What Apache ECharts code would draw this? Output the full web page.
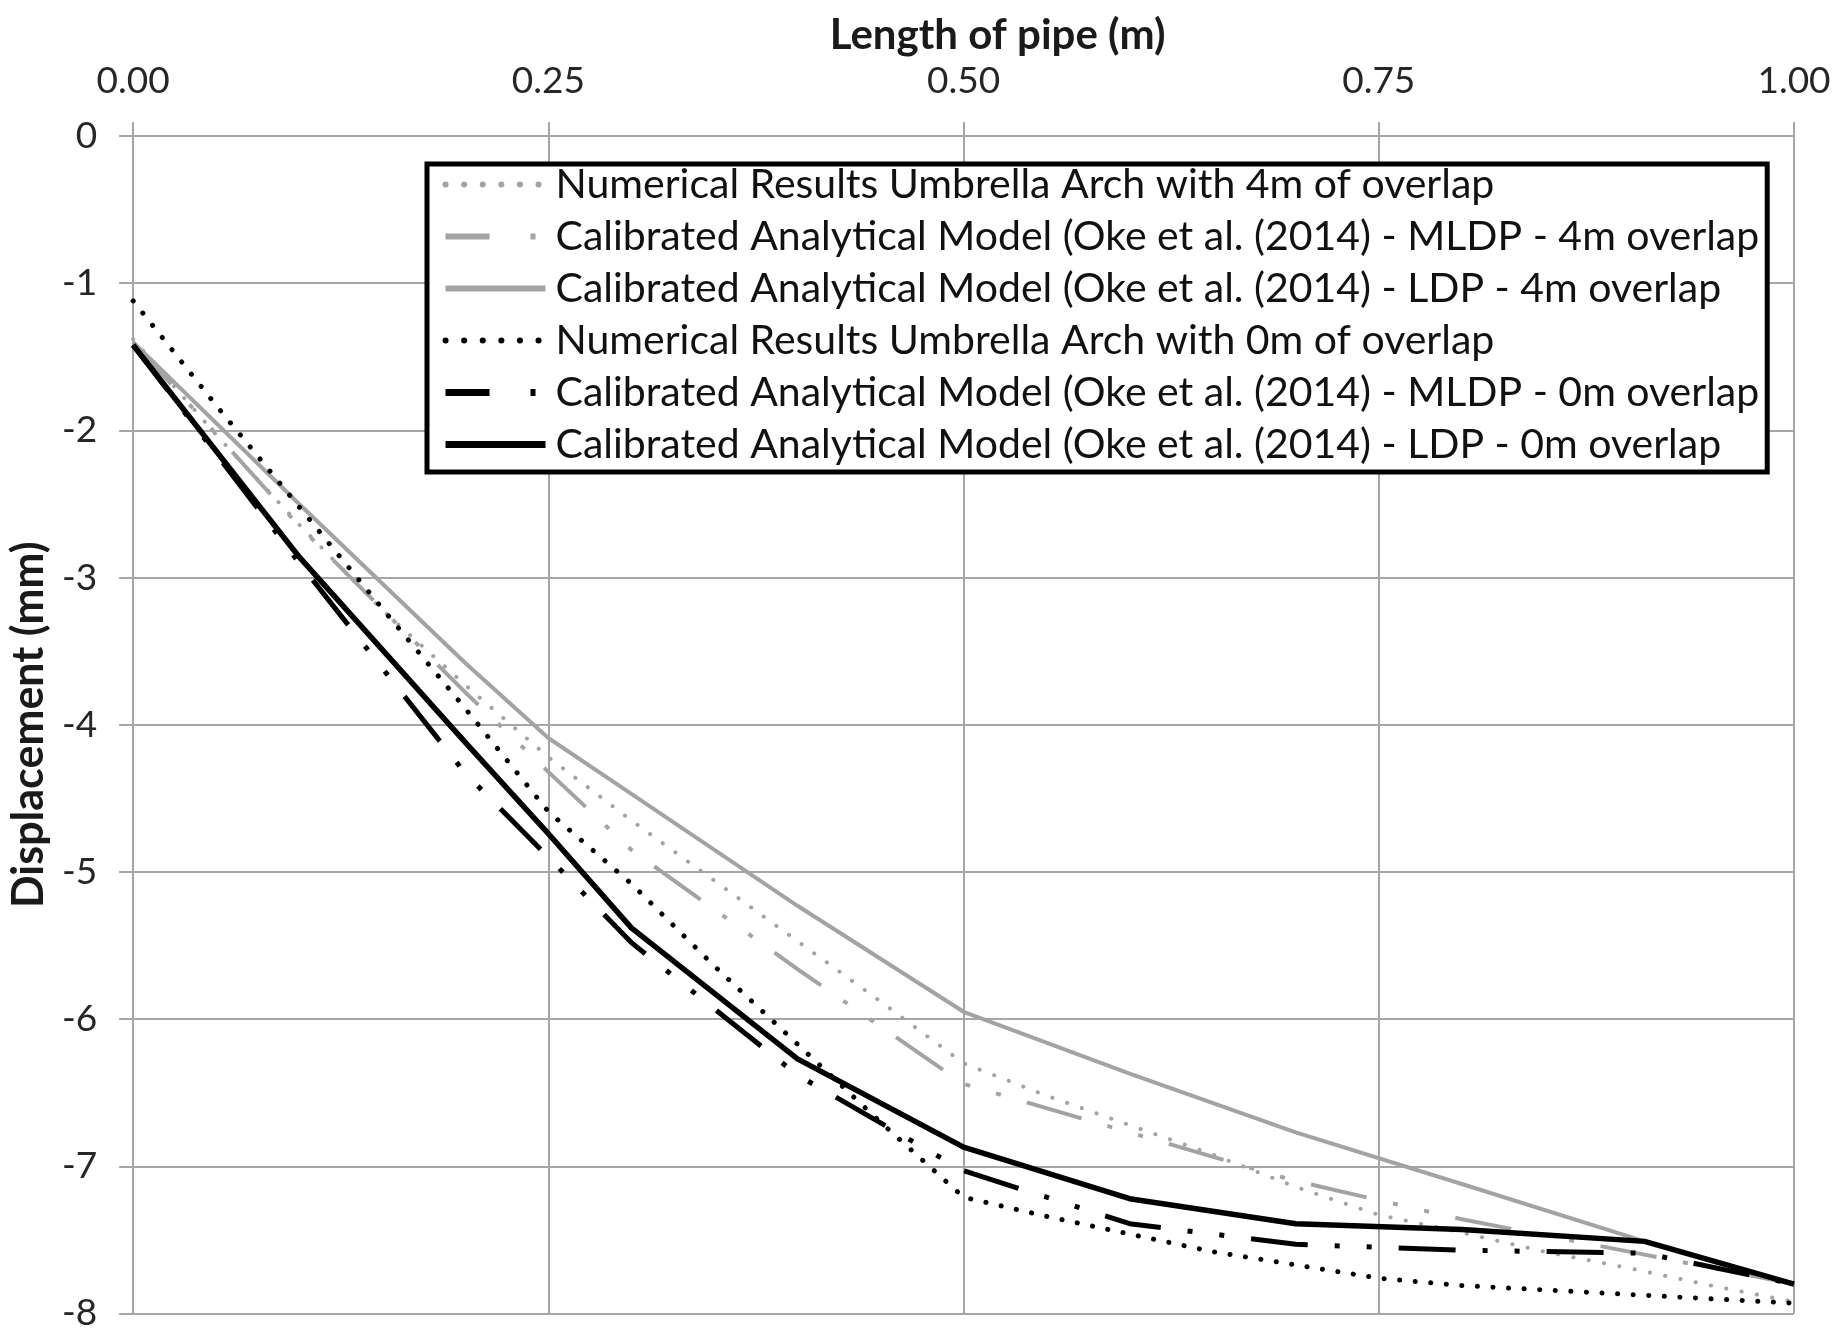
<!DOCTYPE html>
<html>
<head>
<meta charset="utf-8">
<title>Pipe displacement</title>
<script src="https://cdn.jsdelivr.net/npm/echarts@6/dist/echarts.min.js"></script>
<style>
  html, body { margin: 0; padding: 0; background: #ffffff; }
  #chart { width: 1835px; height: 1332px; }
</style>
</head>
<body>
<div id="chart"></div>
<script>
// Positions along the pipe (m) for the numerical results
const numericalX = [0, 0.05, 0.1, 0.15, 0.2, 0.25, 0.3, 0.35, 0.4, 0.45, 0.5,
                    0.55, 0.6, 0.65, 0.7, 0.75, 0.8, 0.85, 0.9, 0.95, 1.0];
// Positions along the pipe (m) for the calibrated analytical models
const modelX = [0, 0.1, 0.2, 0.25, 0.3, 0.4, 0.5, 0.6, 0.7, 0.8, 0.91, 1.0];

// Displacement (mm)
const numerical4m = [-1.38, -2.03, -2.64, -3.22, -3.73, -4.22, -4.65, -5.06, -5.47, -5.88, -6.30,
                     -6.52, -6.72, -6.92, -7.14, -7.33, -7.45, -7.58, -7.69, -7.81, -7.92];
const mldp4m = [-1.40, -2.65, -3.78, -4.32, -4.85, -5.66, -6.44, -6.77, -7.10, -7.36, -7.60, -7.80];
const ldp4m  = [-1.40, -2.50, -3.58, -4.09, -4.47, -5.23, -5.95, -6.37, -6.77, -7.12, -7.51, -7.80];
const numerical0m = [-1.12, -1.83, -2.52, -3.21, -3.89, -4.59, -5.08, -5.64, -6.17, -6.70, -7.21,
                     -7.34, -7.46, -7.58, -7.67, -7.76, -7.81, -7.84, -7.87, -7.90, -7.93];
const mldp0m = [-1.42, -2.90, -4.33, -4.90, -5.48, -6.38, -7.03, -7.39, -7.53, -7.57, -7.59, -7.80];
const ldp0m  = [-1.42, -2.86, -4.12, -4.74, -5.38, -6.27, -6.87, -7.22, -7.39, -7.43, -7.51, -7.80];

const seriesNames = [
  'Numerical Results Umbrella Arch with 4m of overlap',
  'Calibrated Analytical Model (Oke et al. (2014) - MLDP - 4m overlap',
  'Calibrated Analytical Model (Oke et al. (2014) - LDP - 4m overlap',
  'Numerical Results Umbrella Arch with 0m of overlap',
  'Calibrated Analytical Model (Oke et al. (2014) - MLDP - 0m overlap',
  'Calibrated Analytical Model (Oke et al. (2014) - LDP - 0m overlap'
];

const xTicks = [0, 0.25, 0.5, 0.75, 1.0];
const yTicks = [0, -1, -2, -3, -4, -5, -6, -7, -8];

const GRAY = '#a3a3a3';
const BLACK = '#000000';
const GRID_GRAY = '#a6a6a6';
const FONT = 'Lato, "Open Sans", sans-serif';

function pairs(xs, ys) {
  return xs.map((x, i) => [x, ys[i]]);
}

// Line looks in the plot: dotted, long-dash-dot-dot and solid, in gray and black
const styles = [
  { color: GRAY,  width: 4,   type: [0.1, 15.5], cap: 'round' },
  { color: GRAY,  width: 4,   type: [57, 27, 5, 27, 5, 27], cap: 'butt' },
  { color: GRAY,  width: 4,   type: 'solid', cap: 'butt' },
  { color: BLACK, width: 5,   type: [0.1, 15.5], cap: 'round' },
  { color: BLACK, width: 5,   type: [57, 27, 5, 27, 5, 27], cap: 'butt' },
  { color: BLACK, width: 5.5, type: 'solid', cap: 'butt' }
];
// Heavier swatches for the key
const keyStyles = [
  { width: 6, type: [0.1, 18.5], cap: 'round' },
  { width: 6, type: [44, 41, 5, 40], cap: 'butt' },
  { width: 6, type: 'solid', cap: 'butt' },
  { width: 6, type: [0.1, 18.5], cap: 'round' },
  { width: 7, type: [44, 41, 5, 40], cap: 'butt' },
  { width: 7, type: 'solid', cap: 'butt' }
];

const dataSets = [
  pairs(numericalX, numerical4m),
  pairs(modelX, mldp4m),
  pairs(modelX, ldp4m),
  pairs(numericalX, numerical0m),
  pairs(modelX, mldp0m),
  pairs(modelX, ldp0m)
];

const series = seriesNames.map((name, i) => ({
  name: name,
  type: 'line',
  data: dataSets[i],
  symbol: 'none',
  showSymbol: false,
  smooth: false,
  lineStyle: {
    color: styles[i].color,
    width: styles[i].width,
    type: styles[i].type,
    cap: styles[i].cap,
    join: 'round'
  },
  itemStyle: { color: styles[i].color },
  emphasis: { disabled: true },
  z: 2 + i
}));

const chart = echarts.init(document.getElementById('chart'), null, { renderer: 'canvas' });

chart.setOption({
  animation: false,
  backgroundColor: '#ffffff',
  textStyle: { fontFamily: FONT },
  grid: { left: 132, right: 41, top: 136, bottom: 16, containLabel: false },
  xAxis: {
    type: 'value',
    position: 'top',
    min: xTicks[0],
    max: xTicks[xTicks.length - 1],
    interval: 0.25,
    name: 'Length of pipe (m)',
    nameLocation: 'middle',
    nameGap: 80,
    nameTextStyle: {
      fontFamily: FONT, fontSize: 42, fontWeight: 'bold', color: '#1a1a1a',
      padding: [0, 0, 0, 68]
    },
    axisLine: { show: true, lineStyle: { color: GRID_GRAY, width: 2 } },
    axisTick: { show: true, inside: false, length: 14, lineStyle: { color: GRID_GRAY, width: 2 } },
    axisLabel: {
      margin: 36, fontSize: 37, color: '#262626', fontFamily: FONT,
      formatter: v => v.toFixed(2)
    },
    splitLine: { show: true, lineStyle: { color: GRID_GRAY, width: 2 } }
  },
  yAxis: {
    type: 'value',
    min: yTicks[yTicks.length - 1],
    max: yTicks[0],
    interval: 1,
    name: 'Displacement (mm)',
    nameLocation: 'middle',
    nameGap: 73,
    nameRotate: 90,
    nameTextStyle: { fontFamily: FONT, fontSize: 43, fontWeight: 'bold', color: '#1a1a1a' },
    axisLine: { show: true, onZero: false, lineStyle: { color: GRID_GRAY, width: 2 } },
    axisTick: { show: true, inside: false, length: 14, lineStyle: { color: GRID_GRAY, width: 2 } },
    axisLabel: { margin: 36, fontSize: 37, color: '#262626', fontFamily: FONT },
    splitLine: { show: true, lineStyle: { color: GRID_GRAY, width: 2 } }
  },
  legend: {
    show: true,
    orient: 'vertical',
    left: 427,
    top: 164,
    padding: [0, 8, 7, 15],
    itemWidth: 100,
    itemHeight: 20,
    itemGap: 11,
    selectedMode: false,
    backgroundColor: '#ffffff',
    borderColor: '#000000',
    borderWidth: 5,
    lineStyle: { width: 'inherit', type: 'inherit', cap: 'inherit' },
    textStyle: { fontFamily: FONT, fontSize: 41, color: '#111111', lineHeight: 40, padding: [0, 0, 0, 5] },
    data: seriesNames.map((name, i) => ({
      name: name,
      itemStyle: { opacity: 0 },
      lineStyle: {
        width: keyStyles[i].width, type: keyStyles[i].type, cap: keyStyles[i].cap,
        color: styles[i].color, opacity: 1
      }
    }))
  },
  series: series
});
</script>
</body>
</html>
